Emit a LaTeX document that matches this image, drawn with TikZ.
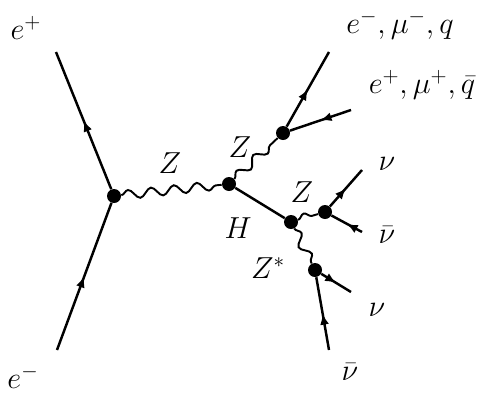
\documentclass[tikz,border=0pt]{standalone}
\usetikzlibrary{arrows.meta,decorations.pathmorphing,decorations.markings}
\begin{document}
\begin{tikzpicture}[
	v/.style = {circle, fill=black, inner sep=0pt, minimum size=0.28cm},
	f/.style = {line width=1.4pt, decoration={markings, mark=at position 0.5 with {\arrow{Latex[length=2.2mm,width=1.8mm]}}}, postaction={decorate}},
	b/.style = {line width=1.1pt, decorate, decoration={snake, segment length=0.46cm, amplitude=0.09cm}},
	h/.style = {line width=1.4pt},
	l/.style = {font=\LARGE}
	]
	\useasboundingbox (0, 0) rectangle (9.74, 7.9);
	
	%Vertices
	\node[v]	(v1)	at	(2.28, 3.98)	{};
	\node[v]	(v2)	at	(4.58, 4.22)	{};
	\node[v]	(v3)	at	(5.66, 5.24)	{};
	\node[v]	(v4)	at	(5.82, 3.46)	{};
	\node[v]	(v5)	at	(6.50, 3.66)	{};
	\node[v]	(v6)	at	(6.30, 2.50)	{};
	
	%Ends
	\coordinate	(ep-in)		at	(1.12, 6.86);
	\coordinate	(em-in)		at	(1.14, 0.90);
	\coordinate	(em-out)	at	(6.58, 6.86);
	\coordinate	(ep-out)	at	(7.02, 5.70);
	\coordinate	(nu-1)		at	(7.24, 4.50);
	\coordinate	(nub-1)		at	(7.24, 3.26);
	\coordinate	(nu-2)		at	(7.02, 2.06);
	\coordinate	(nub-2)		at	(6.58, 0.90);
	
	%Labels
	\node[l]	(t-ep)		at	(0.52, 7.34)	{$e^+$};
	\node[l]	(t-em)		at	(0.46, 0.36)	{$e^-$};
	\node[l]	(t-out1)	at	(8.00, 7.40)	{$e^-, \mu^-, q$};
	\node[l]	(t-out2)	at	(8.44, 6.20)	{$e^+, \mu^+, \bar{q}$};
	\node[l]	(t-z)		at	(3.40, 4.64)	{$Z$};
	\node[l]	(t-z1)		at	(4.80, 4.96)	{$Z$};
	\node[l]	(t-h)		at	(4.76, 3.34)	{$H$};
	\node[l]	(t-z2)		at	(6.04, 4.06)	{$Z$};
	\node[l]	(t-zs)		at	(5.36, 2.54)	{$Z^*$};
	\node[l]	(t-nu1)		at	(7.74, 4.62)	{$\nu$};
	\node[l]	(t-nub1)	at	(7.74, 3.20)	{$\bar{\nu}$};
	\node[l]	(t-nu2)		at	(7.54, 1.70)	{$\nu$};
	\node[l]	(t-nub2)	at	(7.00, 0.46)	{$\bar{\nu}$};
	
	%Lines
	\draw[f]	(v1)		--	(ep-in);
	\draw[f]	(em-in)		--	(v1);
	\draw[b]	(v1)		--	(v2);
	\draw[b]	(v2)		--	(v3);
	\draw[h]	(v2)		--	(v4);
	\draw[f]	(v3)		--	(em-out);
	\draw[f]	(ep-out)	--	(v3);
	\draw[b]	(v4)		--	(v5);
	\draw[b]	(v4)		--	(v6);
	\draw[f]	(v5)		--	(nu-1);
	\draw[f]	(nub-1)		--	(v5);
	\draw[f]	(v6)		--	(nu-2);
	\draw[f]	(nub-2)		--	(v6);
	
\end{tikzpicture}
\end{document}
